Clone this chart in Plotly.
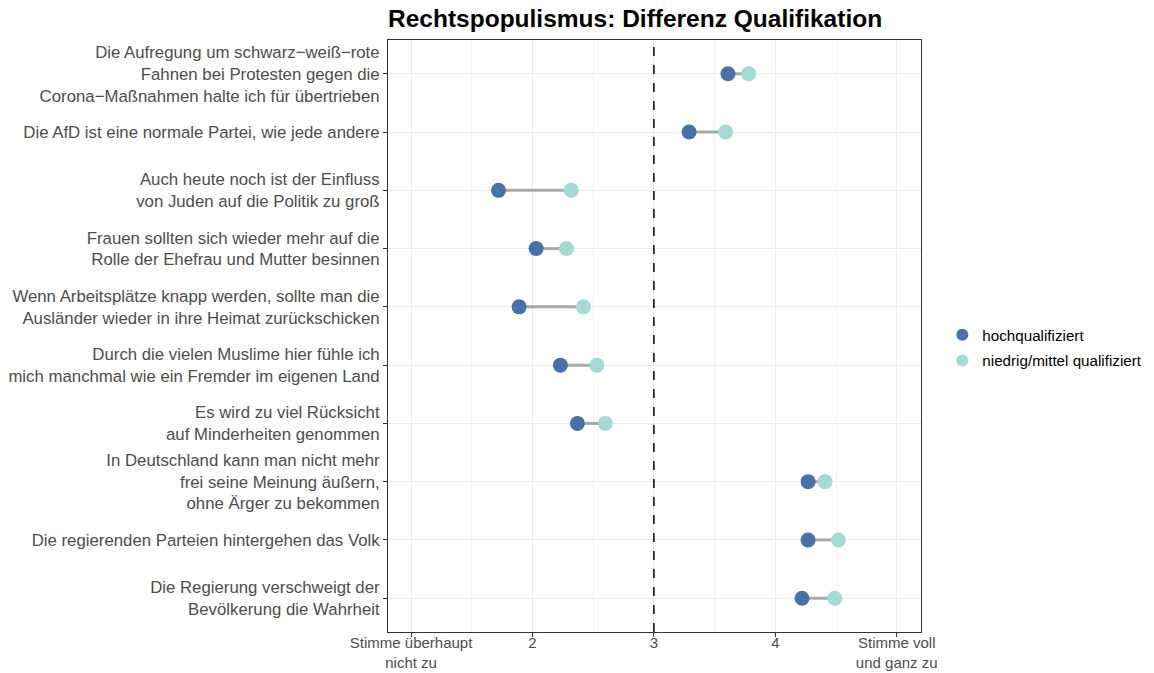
import plotly.graph_objects as go

categories = [
    "Die Aufregung um schwarz\u2212weiß\u2212rote<br>Fahnen bei Protesten gegen die<br>Corona\u2212Maßnahmen halte ich für übertrieben",
    "Die AfD ist eine normale Partei, wie jede andere",
    "Auch heute noch ist der Einfluss<br>von Juden auf die Politik zu groß",
    "Frauen sollten sich wieder mehr auf die<br>Rolle der Ehefrau und Mutter besinnen",
    "Wenn Arbeitsplätze knapp werden, sollte man die<br>Ausländer wieder in ihre Heimat zurückschicken",
    "Durch die vielen Muslime hier fühle ich<br>mich manchmal wie ein Fremder im eigenen Land",
    "Es wird zu viel Rücksicht<br>auf Minderheiten genommen",
    "In Deutschland kann man nicht mehr<br>frei seine Meinung äußern,<br>ohne Ärger zu bekommen",
    "Die regierenden Parteien hintergehen das Volk",
    "Die Regierung verschweigt der<br>Bevölkerung die Wahrheit",
]
hoch = [3.61, 3.29, 1.72, 2.03, 1.89, 2.23, 2.37, 4.27, 4.27, 4.22]
niedrig = [3.78, 3.59, 2.32, 2.28, 2.42, 2.53, 2.60, 4.41, 4.52, 4.49]
series_names = ["hochqualifiziert", "niedrig/mittel qualifiziert"]
tick_vals = [1, 2, 3, 4, 5]
tick_text = ["Stimme überhaupt<br>nicht zu", "2", "3", "4", "Stimme voll<br>und ganz zu"]
midpoint = 3

col_hoch = "#4A71A7"
col_nied = "#A5D9D3"

seg_x, seg_y = [], []
for c, h, n in zip(categories, hoch, niedrig):
    seg_x += [h, n, None]
    seg_y += [c, c, None]

fig = go.Figure()
fig.add_trace(go.Scatter(x=seg_x, y=seg_y, mode="lines",
                         line=dict(color="#A9A9A9", width=3),
                         showlegend=False, hoverinfo="skip"))
fig.add_trace(go.Scatter(x=hoch, y=categories, mode="markers", name=series_names[0],
                         legendgroup="g1",
                         marker=dict(color=col_hoch, size=15)))
fig.add_trace(go.Scatter(x=niedrig, y=categories, mode="markers", name=series_names[1],
                         legendgroup="g2",
                         marker=dict(color=col_nied, size=15)))

fig.add_vline(x=midpoint, line=dict(color="black", width=1.5, dash="dash"))

fig.update_layout(
    width=1154, height=673,
    margin=dict(l=388, r=233, t=40, b=41, autoexpand=False),
    paper_bgcolor="white", plot_bgcolor="white",
    font=dict(family="Liberation Sans, Arial, sans-serif", color="#4D4D4D"),
    title=dict(text="<b>Rechtspopulismus: Differenz Qualifikation</b>",
               x=0, xref="paper", xanchor="left",
               y=0.973, yref="container", yanchor="middle",
               font=dict(size=24.5, color="black")),
    legend=dict(x=1.04, xanchor="left", y=0.48, yanchor="middle",
                font=dict(size=15.2, color="black"), itemsizing="constant",
                tracegroupgap=3),
    showlegend=True,
)
fig.update_xaxes(
    range=[0.81, 5.2], tickmode="array", tickvals=tick_vals, ticktext=tick_text,
    showgrid=True, gridcolor="#EBEBEB", gridwidth=1.2, zeroline=False,
    showline=True, linecolor="#333333", linewidth=1, mirror=True,
    ticks="outside", ticklen=4, tickcolor="#333333", automargin=False,
    ticklabelstandoff=-7,
    tickfont=dict(size=15, color="#4D4D4D"),
    minor=dict(tickmode="linear", tick0=1.5, dtick=1, showgrid=True,
               gridcolor="#F3F3F3", gridwidth=0.8, ticks=""),
)
fig.update_yaxes(
    type="category", categoryorder="array", categoryarray=categories,
    autorange=False, range=[9.58, -0.58],
    showgrid=True, gridcolor="#EBEBEB", gridwidth=1.2, zeroline=False,
    showline=True, linecolor="#333333", linewidth=1, mirror=True,
    ticks="outside", ticklen=4, tickcolor="#333333", automargin=False,
    tickfont=dict(size=16.8, color="#4D4D4D"),
)

fig.write_html("out.html", config={"displayModeBar": False},
               post_script="document.body.style.margin='0';document.body.style.overflow='hidden';")
